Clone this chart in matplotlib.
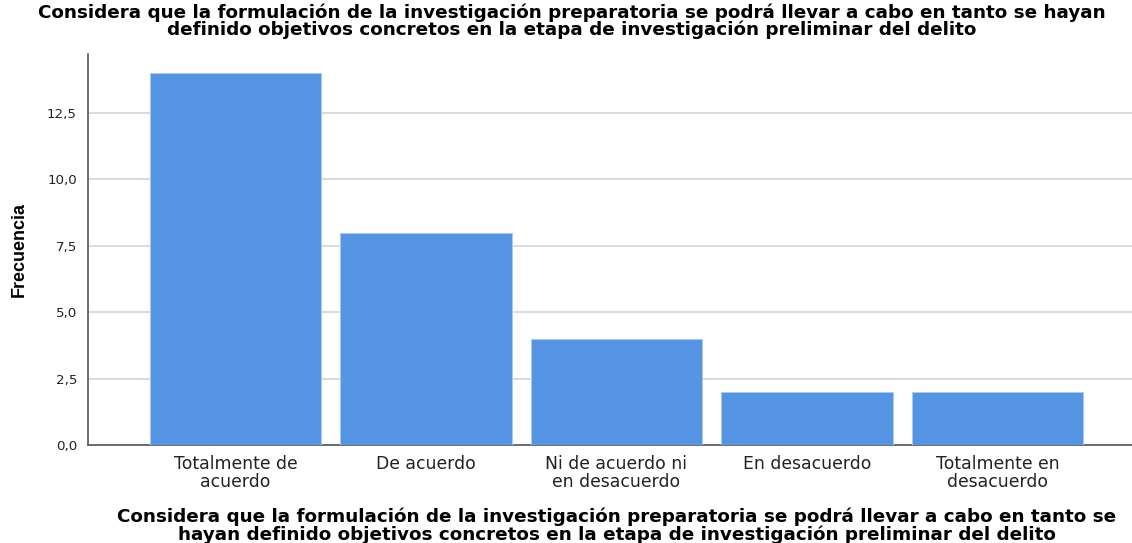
import matplotlib
matplotlib.use("Agg")
import matplotlib.pyplot as plt
import numpy as np

plt.rcParams['font.family'] = ['DejaVu Sans']

categories = ["Totalmente de\nacuerdo", "De acuerdo", "Ni de acuerdo ni\nen desacuerdo",
              "En desacuerdo", "Totalmente en\ndesacuerdo"]
frecuencias = [14, 8, 4, 2, 2]
yticks = [0, 2.5, 5.0, 7.5, 10.0, 12.5]
ytick_labels = ["0,0", "2,5", "5,0", "7,5", "10,0", "12,5"]

title = ("Considera que la formulación de la investigación preparatoria se podrá llevar a cabo en tanto se hayan\n"
         "definido objetivos concretos en la etapa de investigación preliminar del delito")
xlabel = ("Considera que la formulación de la investigación preparatoria se podrá llevar a cabo en tanto se\n"
          "hayan definido objetivos concretos en la etapa de investigación preliminar del delito")

W, H = 1132, 543
fig = plt.figure(figsize=(W/100, H/100), dpi=100)
ax = fig.add_axes([88/W, 1-445/H, 1-88/W, (445-54)/H])
renderer = fig.canvas.get_renderer()


def fit(txt, target_px):
    fs = txt.get_fontsize()
    for _ in range(3):
        w = txt.get_window_extent(renderer).width
        fs = fs * target_px / w
        txt.set_fontsize(fs)
    return fs


x = np.arange(len(categories))
ax.bar(x, frecuencias, width=0.9, color="#5594e2", edgecolor="#a9c9f0", linewidth=0.8, zorder=3)

ax.set_xlim(-0.774, 4.706)
ax.set_ylim(0, 14.72)
ax.set_yticks(yticks)
ax.set_xticks(x)
ax.tick_params(axis='both', length=0)
ax.yaxis.grid(True, color="#d4d4d4", linewidth=1.2, zorder=0)
ax.set_axisbelow(True)
for s in ['top', 'right']:
    ax.spines[s].set_visible(False)
for s in ['left', 'bottom']:
    ax.spines[s].set_color("#555555")
    ax.spines[s].set_linewidth(1.2)

probe = fig.text(0, 0, "Totalmente de", fontsize=10)
tick_fs = fit(probe, 123)
probe.remove()
probe = fig.text(0, 0, "12,5", fontsize=10)
ytick_fs = fit(probe, 30)
probe.remove()

ax.set_yticklabels(ytick_labels, fontsize=ytick_fs, color="#222222")
ax.set_xticklabels(categories, fontsize=tick_fs, color="#222222", linespacing=1.0)
ax.tick_params(axis='y', pad=8)
ax.tick_params(axis='x', pad=7)

ax.set_ylabel("Frecuencia", fontsize=13, fontweight='bold', family='Liberation Sans')
ax.yaxis.set_label_coords(-0.058, 0.5)

t1 = fig.text(572/W, 1-3/H, title, ha='center', va='top', fontsize=11, fontweight='bold', linespacing=0.9)
fit(t1, 1069)
t2 = fig.text(617/W, 1-508/H, xlabel, ha='center', va='top', fontsize=11, fontweight='bold', linespacing=0.9)
fit(t2, 999)

fig.savefig("out.png", dpi=100)
